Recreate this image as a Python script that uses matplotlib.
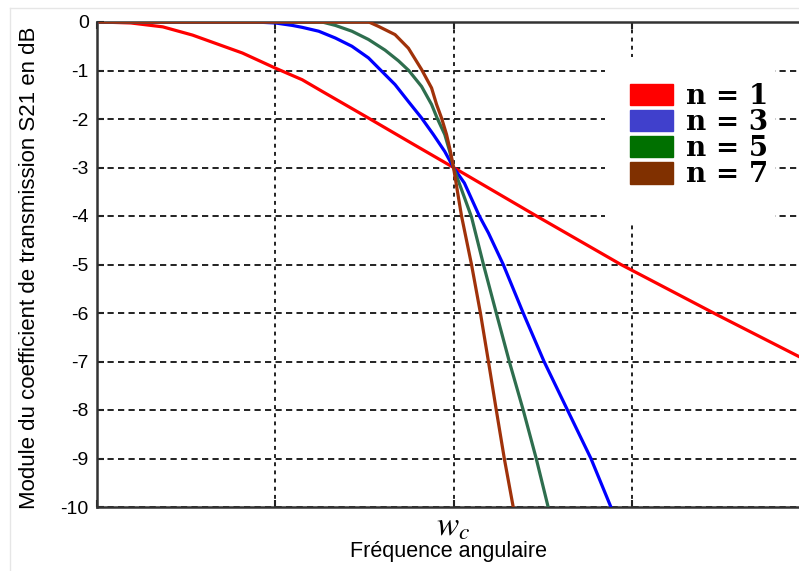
import matplotlib
matplotlib.use("Agg")
import matplotlib.pyplot as plt
from matplotlib.patches import Patch, Rectangle
from matplotlib.lines import Line2D

# ---- data (x: decades relative to the cut-off frequency wc, y: dB) ----
x_n1 = [-1.983, -1.810, -1.631, -1.464, -1.184, -1.000, -0.849, -0.737, -0.468, -0.235, 0.0, 0.475, 0.939, 1.480, 1.939, 2.028]
y_n1 = [0.0, -0.02, -0.10, -0.27, -0.64, -0.95, -1.19, -1.43, -2.00, -2.50, -3.0, -4.02, -5.0, -6.04, -6.9, -7.07]

x_n3 = [-1.983, -1.112, -1.000, -0.905, -0.849, -0.756, -0.663, -0.570, -0.477, -0.412, -0.328, -0.253, -0.179,
        -0.113, -0.049, 0.0, 0.061, 0.145, 0.196, 0.279, 0.391, 0.508, 0.642, 0.771, 0.883, 0.939]
y_n3 = [0.0, 0.0, -0.02, -0.07, -0.11, -0.19, -0.33, -0.50, -0.74, -0.98, -1.29, -1.64, -1.98,
        -2.32, -2.67, -3.0, -3.32, -4.0, -4.35, -5.0, -6.0, -7.0, -8.02, -9.0, -10.0, -10.5]

x_n5 = [-1.983, -0.737, -0.663, -0.570, -0.477, -0.384, -0.309, -0.251, -0.179, -0.123, -0.092, -0.049, -0.021,
        0.0, 0.101, 0.168, 0.240, 0.313, 0.391, 0.464, 0.531, 0.559]
y_n5 = [0.0, 0.0, -0.07, -0.19, -0.36, -0.58, -0.80, -1.00, -1.33, -1.70, -1.98, -2.32, -2.67,
        -3.0, -4.02, -5.0, -6.0, -7.0, -8.0, -9.0, -10.0, -10.4]

x_n7 = [-1.983, -0.475, -0.421, -0.328, -0.253, -0.179, -0.123, -0.095, -0.067, -0.039, -0.017,
        0.0, 0.045, 0.101, 0.151, 0.196, 0.240, 0.285, 0.335, 0.352]
y_n7 = [0.0, 0.0, -0.09, -0.26, -0.54, -0.98, -1.36, -1.70, -1.98, -2.32, -2.67,
        -3.0, -4.0, -5.0, -6.0, -7.0, -8.0, -9.0, -10.0, -10.4]

series_labels = ["n = 1", "n = 3", "n = 5", "n = 7"]
line_colors = ["#ff0000", "#0000ff", "#2e6e4e", "#a0320a"]
patch_colors = ["#ff0000", "#4040cc", "#007000", "#803000"]

y_ticks = [0, -1, -2, -3, -4, -5, -6, -7, -8, -9, -10]
y_tick_labels = ["0", "-1", "-2", "-3", "-4", "-5", "-6", "-7", "-8", "-9", "-10"]
x_ticks = [-2, -1, 0, 1]
x_tick_labels = ["", "", r"$w_c$", ""]

# ---- figure ----
W, H = 799, 571
plt.rcParams["font.family"] = ["Liberation Sans", "DejaVu Sans"]
plt.rcParams["mathtext.fontset"] = "stix"
fig = plt.figure(figsize=(W / 100, H / 100), dpi=100)

def fx(px):
    return px / W

def fy(py):
    return 1 - py / H

ax = fig.add_axes([fx(97), fy(507), (810 - 97) / W, (507 - 22) / H])
ax.set_xlim(-1.983, 2.0)
ax.set_ylim(-10, 0)

xs = [x_n1, x_n3, x_n5, x_n7]
ys = [y_n1, y_n3, y_n5, y_n7]
for xv, yv, c in zip(xs, ys, line_colors):
    ax.plot(xv, yv, color=c, lw=2.3, zorder=3, solid_joinstyle="round")

ax.set_axisbelow(True)
ax.xaxis.grid(True, color="#222222", lw=1.4, linestyle=(0, (2.0, 2.2)))
ax.yaxis.grid(True, color="#222222", lw=1.4, linestyle=(0, (3.2, 2.2)))

ax.set_yticks(y_ticks)
ax.set_yticklabels(y_tick_labels, fontsize=14)
ax.set_xticks(x_ticks)
ax.set_xticklabels(x_tick_labels, fontsize=24)
ax.tick_params(axis="both", direction="in", length=5, width=1.5, color="#222222",
               top=True, right=False)
ax.tick_params(axis="y", pad=6)
ax.tick_params(axis="x", pad=3)

for s in ["left", "bottom", "top"]:
    ax.spines[s].set_linewidth(1.8)
    ax.spines[s].set_color("#333333")
ax.spines["right"].set_visible(False)

# white legend background
ax.add_patch(Rectangle((fx(605), fy(225)), fx(775) - fx(605), fy(57) - fy(225),
                       transform=fig.transFigure, facecolor="white", edgecolor="none", zorder=1))

handles = [Patch(facecolor=c, edgecolor=c) for c in patch_colors]
leg = fig.legend(handles, series_labels, loc="upper left",
                 bbox_to_anchor=(fx(630), fy(83)), frameon=False,
                 prop={"family": "DejaVu Serif", "weight": "bold", "size": 20},
                 handlelength=1.55, handleheight=0.82, handletextpad=0.45,
                 labelspacing=-0.03, borderpad=0, borderaxespad=0)

fig.text(fx(30), fy(268), "Module du coefficient de transmission S21 en dB",
         rotation=90, ha="center", va="center", fontsize=16)
fig.text(fx(448), fy(551), "Fréquence angulaire", ha="center", va="center", fontsize=15.5)

# faint outer frame
fig.add_artist(Line2D([fx(10), fx(10)], [fy(8), 0], color="#e6e6e6", lw=1))
fig.add_artist(Line2D([fx(10), 1], [fy(8), fy(8)], color="#e6e6e6", lw=1))

fig.savefig("out.png", dpi=100)
